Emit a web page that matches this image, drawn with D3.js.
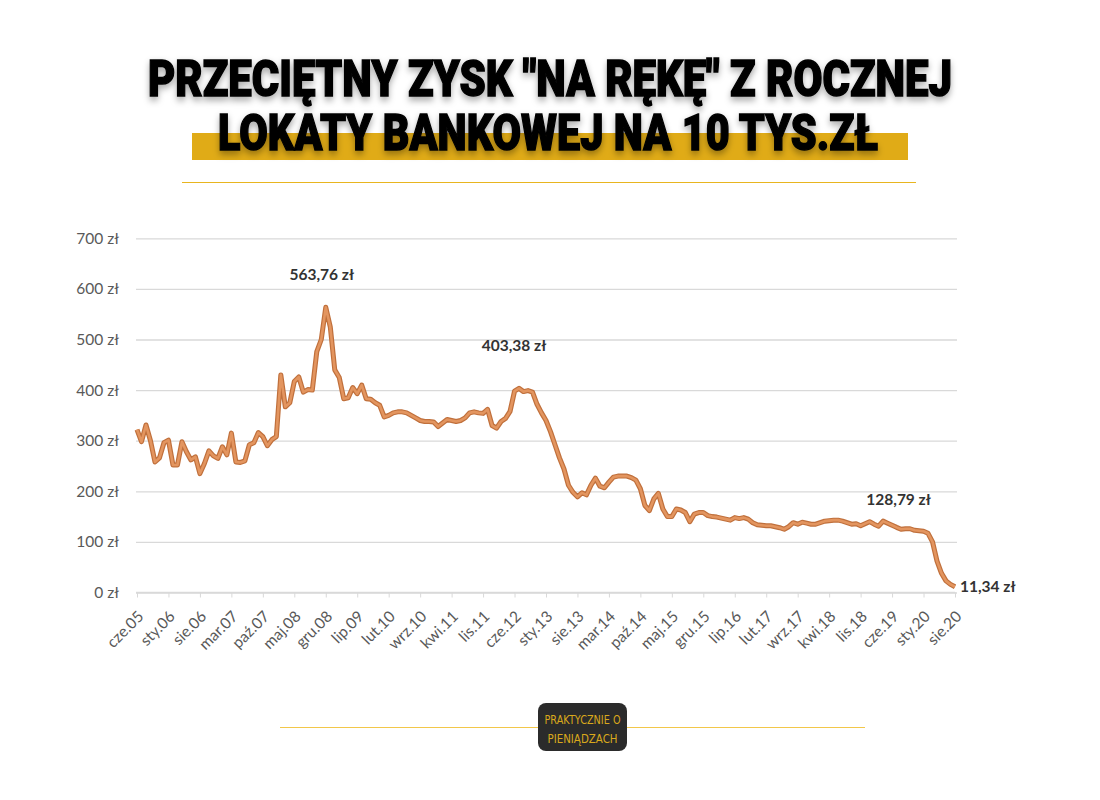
<!DOCTYPE html>
<html>
<head>
<meta charset="utf-8">
<script src="https://cdn.jsdelivr.net/npm/d3@7"></script>
<style>
  body { margin: 0; background: #fff; }
  svg { display: block; }
  .axis text { font-family: Lato, "Open Sans", sans-serif; font-size: 15.5px; fill: #595959; }
  .axis line { stroke: #d9d9d9; }
  .annot { font-family: Lato, "Open Sans", sans-serif; font-size: 15.5px; font-weight: 700; fill: #333; }
</style>
</head>
<body>
<svg id="chart"></svg>
<script>
// Title lines
const titleLines = ['PRZECIĘTNY ZYSK "NA RĘKĘ" Z ROCZNEJ', 'LOKATY BANKOWEJ NA 10 TYS.ZŁ'];

// Polish month abbreviations, series starts in June 2005
const monthNames = ['sty', 'lut', 'mar', 'kwi', 'maj', 'cze', 'lip', 'sie', 'wrz', 'paź', 'lis', 'gru'];

// Monthly net profit (zł) from a 12M deposit of 10 000 zł, cze.05 .. sie.20
const profitValues = [
  322, 298, 331, 300, 258, 266, 296, 301, 252, 252, 298, 278, 262, 268, 235, 255,
  280, 270, 265, 288, 272, 315, 258, 257, 260, 292, 296, 316, 308, 290, 302, 308,
  430, 367, 375, 417, 426, 396, 401, 400, 476, 500, 563.76,
  525, 440, 425, 383, 385, 405, 393, 410, 383, 382, 375, 370, 347, 350, 355, 357,
  357, 355, 350, 345, 340, 338, 338, 337, 328, 335, 342, 340, 338, 340, 345, 355,
  357, 355, 354, 362, 330, 325,
  338, 344, 358, 398, 403.38, 397, 399, 396, 372, 355, 340, 318, 292, 266, 244, 212,
  198, 189, 197, 193, 212, 226, 210, 207, 218, 228, 230, 230, 230, 227, 222, 205,
  172, 162, 185, 196, 165, 150, 150, 165, 163, 158, 140,
  155, 158, 158, 152, 150, 149, 147, 145, 143, 148, 146, 148, 145, 138, 134, 133,
  132, 132, 130, 128, 125, 130, 138, 135, 139, 137, 135, 135, 138, 141, 142, 143,
  143, 141, 138, 135, 136, 132, 136, 140, 135, 131, 141, 137, 133, 128.79, 125, 126,
  126, 123, 122, 121, 117, 100, 62, 38, 23, 16, 11.34
];

// Y axis ticks
const yTicks = [0, 100, 200, 300, 400, 500, 600, 700];

// Labelled points (index into profitValues)
const annotated = [42, 85, 169, 182];

class ProfitLineChart {

  constructor(_config, _data) {
    this.config = {
      parentElement: _config.parentElement,
      containerWidth: _config.containerWidth || 1100,
      containerHeight: _config.containerHeight || 800,
      margin: _config.margin || {top: 238.3, right: 145, bottom: 207.5, left: 136}
    };
    this.data = _data;
    this.initVis();
  }

  initVis() {
    let vis = this;

    vis.width = vis.config.containerWidth - vis.config.margin.left - vis.config.margin.right;
    vis.height = vis.config.containerHeight - vis.config.margin.top - vis.config.margin.bottom;

    vis.svg = d3.select(vis.config.parentElement)
        .attr('width', vis.config.containerWidth)
        .attr('height', vis.config.containerHeight);

    // Soft shadow under the title, region spans the whole header
    const defs = vis.svg.append('defs');
    const shadow = defs.append('filter')
        .attr('id', 'titleShadow')
        .attr('filterUnits', 'userSpaceOnUse')
        .attr('x', 0).attr('y', -100).attr('width', 1100).attr('height', 200);
    shadow.append('feDropShadow')
        .attr('dx', 0).attr('dy', 3).attr('stdDeviation', 3)
        .attr('flood-color', '#000').attr('flood-opacity', 0.35);

    // Header: yellow highlight bar, two title lines, thin rule
    vis.svg.append('rect')
        .attr('x', 192).attr('y', 133)
        .attr('width', 716).attr('height', 27)
        .attr('fill', '#e0ab17');

    // font is set smaller and stretched vertically so the width is not squeezed
    const titleBox = [{x: 148, y: 96, w: 804}, {x: 218, y: 150, w: 660}];
    vis.svg.selectAll('.title')
        .data(titleLines)
      .join('text')
        .attr('class', 'title')
        .attr('x', (d, i) => titleBox[i].x)
        .attr('y', 0)
        .attr('transform', (d, i) => `translate(0,${titleBox[i].y}) scale(1,1.2)`)
        .attr('textLength', (d, i) => titleBox[i].w)
        .attr('lengthAdjust', 'spacingAndGlyphs')
        .attr('filter', 'url(#titleShadow)')
        .style('font-family', 'Roboto, "DejaVu Sans", sans-serif')
        .style('font-weight', 900)
        .style('font-size', '41px')
        .style('fill', '#000')
        .style('stroke', '#000')
        .style('stroke-width', 1.2)
        .text(d => d);

    vis.svg.append('line')
        .attr('x1', 182).attr('x2', 916)
        .attr('y1', 182.5).attr('y2', 182.5)
        .attr('stroke', '#e8b51f').attr('stroke-width', 1);

    // Footer rule and logo
    vis.svg.append('line')
        .attr('x1', 280).attr('x2', 865)
        .attr('y1', 727.5).attr('y2', 727.5)
        .attr('stroke', '#f2c74a').attr('stroke-width', 1);

    vis.svg.append('rect')
        .attr('x', 538).attr('y', 703)
        .attr('width', 89).attr('height', 48)
        .attr('rx', 8)
        .attr('fill', '#2b2b2b');

    vis.svg.selectAll('.logo')
        .data(['PRAKTYCZNIE O', 'PIENIĄDZACH'])
      .join('text')
        .attr('class', 'logo')
        .attr('x', 582.5)
        .attr('y', (d, i) => 724 + i * 19)
        .attr('text-anchor', 'middle')
        .attr('textLength', (d, i) => i === 0 ? 76 : 70)
        .attr('lengthAdjust', 'spacingAndGlyphs')
        .style('font-family', '"DejaVu Sans", sans-serif')
        .style('font-size', '13px')
        .style('fill', '#d9a81c')
        .text(d => d);

    // Scales
    vis.xScale = d3.scaleLinear()
        .domain([0, vis.data.length - 1])
        .range([1, 819]);

    vis.yScale = d3.scaleLinear()
        .domain([0, 700])
        .range([vis.height, 0]);

    vis.chart = vis.svg.append('g')
        .attr('transform', `translate(${vis.config.margin.left},${vis.config.margin.top})`);

    vis.yAxis = d3.axisLeft(vis.yScale)
        .tickValues(yTicks)
        .tickSize(-821)
        .tickPadding(17)
        .tickFormat(d => d + ' zł');

    vis.xAxis = d3.axisBottom(vis.xScale)
        .tickValues(d3.range(0, vis.data.length, 7))
        .tickSize(5)
        .tickSizeOuter(0)
        .tickFormat(i => vis.data[i].label);

    vis.yAxisG = vis.chart.append('g').attr('class', 'axis y-axis');
    vis.xAxisG = vis.chart.append('g')
        .attr('class', 'axis x-axis')
        .attr('transform', `translate(0,${vis.height})`);
  }

  updateVis() {
    let vis = this;
    vis.xValue = d => d.i;
    vis.yValue = d => d.value;
    vis.renderVis();
  }

  renderVis() {
    let vis = this;

    vis.yAxisG
        .call(vis.yAxis)
        .call(g => g.select('.domain').remove())
        .call(g => g.selectAll('.tick line').attr('stroke', '#d9d9d9').attr('stroke-width', 1.3));

    vis.xAxisG
        .call(vis.xAxis)
        .call(g => g.select('.domain').attr('stroke', '#d9d9d9').attr('stroke-width', 1.3)
            .attr('d', 'M0,0H819'))
        .call(g => g.selectAll('.tick text')
            .attr('x', 0).attr('y', 0).attr('dy', 0)
            .attr('text-anchor', 'end')
            .attr('transform', 'translate(7,25) rotate(-45)'));

    const line = d3.line()
        .x(d => vis.xScale(vis.xValue(d)))
        .y(d => vis.yScale(vis.yValue(d)))
        .curve(d3.curveLinear);

    vis.chart.append('path')
        .datum(vis.data)
        .attr('fill', 'none')
        .attr('stroke', '#c0703c')
        .attr('stroke-width', 5)
        .attr('stroke-linejoin', 'round')
        .attr('d', line);

    vis.chart.append('path')
        .datum(vis.data)
        .attr('fill', 'none')
        .attr('stroke', '#e3955f')
        .attr('stroke-width', 2.6)
        .attr('stroke-linejoin', 'round')
        .attr('d', line);

    const fmt = v => v.toFixed(2).replace('.', ',') + ' zł';
    const offsets = {42: [-4, -27, 'middle'], 85: [-5, -37, 'middle'], 169: [2, -22, 'middle'], 182: [5, 5, 'start']};

    vis.chart.selectAll('.annot')
        .data(annotated.map(i => vis.data[i]))
      .join('text')
        .attr('class', 'annot')
        .attr('x', d => vis.xScale(d.i) + offsets[d.i][0])
        .attr('y', d => vis.yScale(d.value) + offsets[d.i][1])
        .attr('text-anchor', d => offsets[d.i][2])
        .text(d => fmt(d.value));
  }
}

const chartData = profitValues.map((v, i) => {
  const m = (5 + i) % 12;
  const y = 2005 + Math.floor((5 + i) / 12);
  return {i: i, value: v, label: monthNames[m] + '.' + String(y).slice(2)};
});

const chart = new ProfitLineChart({parentElement: '#chart'}, chartData);
chart.updateVis();
</script>
</body>
</html>
